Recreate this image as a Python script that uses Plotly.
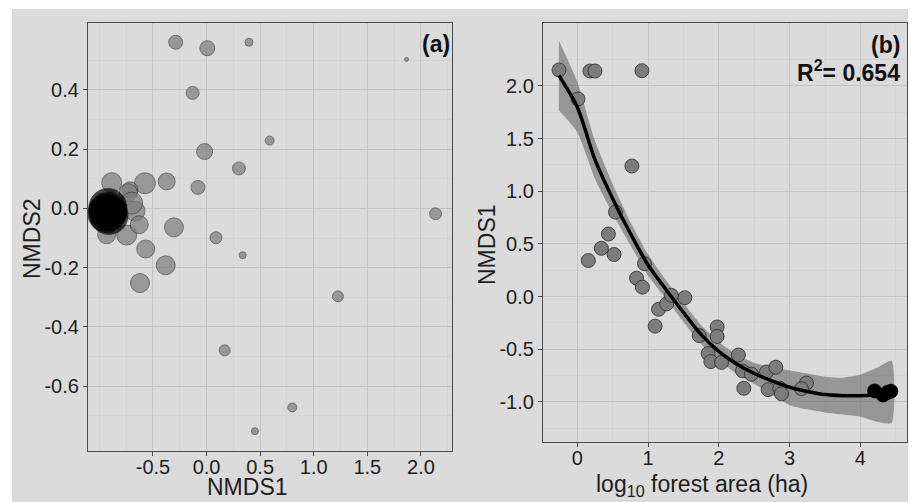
import plotly.graph_objects as go

# ---------------- data: panel (a) ----------------
nmds1_a = [-0.288, 0.007, 0.396, 1.866, -0.13, 0.588, -0.018, 0.302, -0.08, -0.372,
           -0.575, -0.885, -0.715, -0.73, -0.668, -0.699, 2.137, -0.304, 0.088, 0.337,
           -0.568, -0.745, -0.628, -0.381, -0.621, 1.226, 0.169, 0.8, 0.451, -0.932]
nmds2_a = [0.561, 0.541, 0.561, 0.503, 0.39, 0.229, 0.192, 0.135, 0.071, 0.091,
           0.085, 0.087, 0.063, 0.053, -0.009, 0.018, -0.018, -0.064, -0.099, -0.158,
           -0.137, -0.09, -0.055, -0.192, -0.252, -0.297, -0.479, -0.672, -0.752, -0.089]
bubble_a = [7, 7.5, 4, 2, 6.5, 4.5, 8, 6.5, 7, 8.5,
            10.5, 10, 8, 9, 10, 11, 6, 9.5, 6, 3.5,
            9, 10, 9, 9.5, 9.5, 5.5, 5.5, 4.5, 3.5, 9]
nmds1_a_large = [-0.92, -0.92, -0.91, -0.93]
nmds2_a_large = [0.003, -0.01, -0.024, -0.017]
bubble_a_large = [19, 19, 19, 19]

# ---------------- data: panel (b) ----------------
logarea_b = [-0.258, 0.179, 0.25, 0.913, 0.01, 0.772, 0.54, 0.44, 0.34, 0.156,
             0.52, 0.95, 0.838, 0.92, 1.149, 1.262, 1.33, 1.52, 1.10, 1.722,
             1.976, 1.976, 1.849, 1.887, 2.038, 2.275, 2.334, 2.353, 2.461, 2.673,
             2.805, 2.696, 2.861, 2.885, 3.238, 3.167]
nmds1_b = [2.152, 2.142, 2.142, 2.145, 1.877, 1.24, 0.803, 0.595, 0.459, 0.343,
           0.40, 0.313, 0.175, 0.09, -0.12, -0.068, 0.012, -0.01, -0.28, -0.37,
           -0.288, -0.378, -0.54, -0.617, -0.624, -0.554, -0.705, -0.87, -0.736, -0.715,
           -0.67, -0.883, -0.87, -0.922, -0.82, -0.874]
logarea_b_large = [4.20, 4.32, 4.38, 4.43]
nmds1_b_large = [-0.895, -0.934, -0.91, -0.898]

# fitted curve and confidence band
fit_x = [-0.26, 0.0, 0.25, 0.5, 0.75, 1.0, 1.25, 1.5, 1.75, 2.0,
         2.25, 2.5, 2.75, 3.0, 3.25, 3.5, 3.75, 4.0, 4.25, 4.44]
fit_y = [2.10, 1.80, 1.30, 0.93, 0.60, 0.30, 0.07, -0.15, -0.36, -0.52,
         -0.64, -0.73, -0.80, -0.86, -0.90, -0.93, -0.94, -0.94, -0.93, -0.92]
fit_upper = [2.43, 2.04, 1.48, 1.07, 0.71, 0.40, 0.16, -0.06, -0.27, -0.43,
             -0.55, -0.63, -0.67, -0.70, -0.73, -0.76, -0.77, -0.74, -0.67, -0.61]
fit_lower = [1.77, 1.56, 1.12, 0.79, 0.49, 0.20, -0.02, -0.24, -0.45, -0.61,
             -0.73, -0.83, -0.93, -1.03, -1.07, -1.10, -1.12, -1.14, -1.19, -1.20]

xticks_a = [-0.5, 0.0, 0.5, 1.0, 1.5, 2.0]
yticks_a = [-0.6, -0.4, -0.2, 0.0, 0.2, 0.4]
xticks_b = [0, 1, 2, 3, 4]
yticks_b = [-1.0, -0.5, 0.0, 0.5, 1.0, 1.5, 2.0]
r2_text = "0.654"

# ---------------- styling ----------------
FONT = "Liberation Sans, Arial, sans-serif"
PANEL_BG = "#e2e2e2"
OUTER_BG = "#dbdbdb"
MAJOR = "#c3c3c3"
MINOR = "#d4d4d4"
PT_FILL = "#7c7c7c"
PT_EDGE = "#2a2a2a"

fig = go.Figure()

# panel (a)
fig.add_trace(go.Scatter(
    x=nmds1_a, y=nmds2_a, mode="markers", xaxis="x", yaxis="y",
    marker=dict(size=bubble_a, sizemode="diameter", sizeref=0.5, color=PT_FILL,
                line=dict(color=PT_EDGE, width=0.8)),
    showlegend=False, hoverinfo="skip"))
fig.add_trace(go.Scatter(
    x=nmds1_a_large, y=nmds2_a_large, mode="markers", xaxis="x", yaxis="y",
    marker=dict(size=bubble_a_large, sizemode="diameter", sizeref=0.5, color="black",
                line=dict(color="black", width=0.8)),
    showlegend=False, hoverinfo="skip"))

# panel (b)
fig.add_trace(go.Scatter(
    x=fit_x + fit_x[::-1], y=fit_upper + fit_lower[::-1], xaxis="x2", yaxis="y2",
    mode="lines", fill="toself", fillcolor="rgba(100,100,100,0.58)",
    line=dict(width=0, shape="spline", smoothing=0.6),
    showlegend=False, hoverinfo="skip"))
fig.add_trace(go.Scatter(
    x=logarea_b, y=nmds1_b, mode="markers", xaxis="x2", yaxis="y2",
    marker=dict(size=14, color=PT_FILL, line=dict(color=PT_EDGE, width=0.8)),
    showlegend=False, hoverinfo="skip"))
fig.add_trace(go.Scatter(
    x=fit_x, y=fit_y, mode="lines", xaxis="x2", yaxis="y2",
    line=dict(color="black", width=3.5, shape="spline", smoothing=0.8),
    showlegend=False, hoverinfo="skip"))
fig.add_trace(go.Scatter(
    x=logarea_b_large, y=nmds1_b_large, mode="markers", xaxis="x2", yaxis="y2",
    marker=dict(size=14, color="black", line=dict(color="black", width=0.8)),
    showlegend=False, hoverinfo="skip"))


def fmt(v):
    return f"{v:.1f}"


def axis_common():
    return dict(showline=True, linecolor="#4a4a4a", linewidth=1.2, mirror=True,
                ticks="outside", ticklen=4, tickcolor="#4a4a4a", tickwidth=1,
                showgrid=True, gridcolor=MAJOR, gridwidth=1, zeroline=False,
                tickfont=dict(family=FONT, size=20, color="#1e1e1e"),
                tickmode="array")


xa = axis_common()
xa.update(domain=[0, 364 / 819], range=[-1.106, 2.29], tickvals=xticks_a,
          ticktext=[fmt(v) for v in xticks_a], ticklabelstandoff=-6,
          minor=dict(tickmode="array", tickvals=[-1.0, -0.75, -0.25, 0.25, 0.75, 1.25, 1.75, 2.25],
                     showgrid=True, gridcolor=MINOR, gridwidth=0.8, ticks=""))
ya = axis_common()
ya.update(domain=[0, 1], range=[-0.819, 0.626], tickvals=yticks_a,
          ticktext=[fmt(v) for v in yticks_a], anchor="x",
          minor=dict(tickmode="array", tickvals=[-0.7, -0.5, -0.3, -0.1, 0.1, 0.3, 0.5],
                     showgrid=True, gridcolor=MINOR, gridwidth=0.8, ticks=""))
xb = axis_common()
xb.update(domain=[455 / 819, 1], range=[-0.484, 4.658], tickvals=xticks_b,
          ticktext=[str(v) for v in xticks_b], anchor="y2", ticklabelstandoff=-6,
          minor=dict(tickmode="array", tickvals=[0.5, 1.5, 2.5, 3.5, 4.5],
                     showgrid=True, gridcolor=MINOR, gridwidth=0.8, ticks=""))
yb = axis_common()
yb.update(domain=[9 / 428, 1], range=[-1.38, 2.598], tickvals=yticks_b,
          ticktext=[fmt(v) for v in yticks_b], anchor="x2",
          minor=dict(tickmode="array",
                     tickvals=[-1.25, -0.75, -0.25, 0.25, 0.75, 1.25, 1.75, 2.25],
                     showgrid=True, gridcolor=MINOR, gridwidth=0.8, ticks=""))

title_font = dict(family=FONT, size=23, color="#1e1e1e")
label_font = dict(family=FONT, size=23, color="#111111")

annotations = [
    dict(text="NMDS1", xref="paper", yref="paper", x=(247 - 88) / 819, y=(451 - 487) / 428,
         xanchor="center", yanchor="middle", showarrow=False, font=title_font),
    dict(text="NMDS2", xref="paper", yref="paper", x=(32 - 88) / 819, y=(451 - 238) / 428,
         xanchor="center", yanchor="middle", textangle=-90, showarrow=False, font=title_font),
    dict(text="NMDS1", xref="paper", yref="paper", x=(487 - 88) / 819, y=(451 - 245) / 428,
         xanchor="center", yanchor="middle", textangle=-90, showarrow=False, font=title_font),
    dict(text="log<sub>10</sub> forest area (ha)", xref="paper", yref="paper",
         x=(702 - 88) / 819, y=(451 - 485) / 428,
         xanchor="center", yanchor="middle", showarrow=False, font=title_font),
    dict(text="<b>(a)</b>", xref="x domain", yref="y domain", x=1.0, y=(451 - 29) / 428,
         xanchor="right", yanchor="top", showarrow=False, font=label_font),
    dict(text="<b>(b)</b>", xref="x2 domain", yref="y2 domain", x=(902 - 543) / 364.3,
         y=(442 - 30) / 419, xanchor="right", yanchor="top", showarrow=False, font=label_font),
    dict(text=f"<b>R<sup>2</sup>= {r2_text}</b>", xref="x2 domain", yref="y2 domain",
         x=(902 - 543) / 364.3, y=(442 - 54) / 419, xanchor="right", yanchor="top",
         showarrow=False, font=label_font),
]

shapes = [
    dict(type="rect", xref="paper", yref="paper", layer="below",
         x0=(12 - 88) / 819, x1=1.05, y0=-0.2, y1=1 + (23 - 9) / 428,
         fillcolor=OUTER_BG, line=dict(width=0)),
]

# the page body adds an 8 px offset, so the figure is sized and margined for that
fig.update_layout(
    width=908, height=494,
    margin=dict(l=80, r=9, t=15, b=51),
    paper_bgcolor="white", plot_bgcolor=PANEL_BG,
    xaxis=xa, yaxis=ya, xaxis2=xb, yaxis2=yb,
    annotations=annotations, shapes=shapes,
    font=dict(family=FONT),
)

fig.write_html("out.html")
